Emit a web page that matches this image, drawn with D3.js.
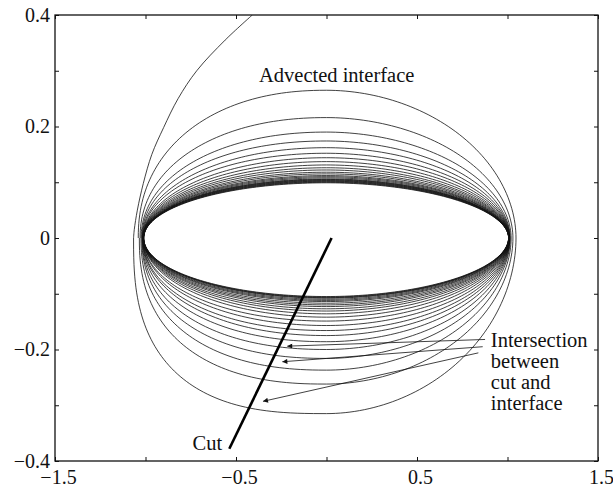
<!DOCTYPE html>
<html>
<head>
<meta charset="utf-8">
<script src="https://cdn.jsdelivr.net/npm/d3@7"></script>
<style>
  html, body { margin: 0; padding: 0; background: #fff; }
  svg { display: block; }
  text { font-family: "Liberation Serif", "Times New Roman", serif; fill: #111; }
</style>
</head>
<body>
<svg id="chart" width="613" height="490"></svg>
<script>
// ---- data ----
const xTickValues = [-1.5, -1, -0.5, 0, 0.5, 1, 1.5];
const xTickLabels = ["\u22121.5", "", "\u22120.5", "", "0.5", "", "1.5"];
const yTickValues = [-0.4, -0.3, -0.2, -0.1, 0, 0.1, 0.2, 0.3, 0.4];
const yTickLabels = ["\u22120.4", "", "\u22120.2", "", "0", "", "0.2", "", "0.4"];

// advected interface loops (outer -> inner): extremes
const loopTop    = [0.265, 0.216, 0.190, 0.174, 0.162, 0.152, 0.144, 0.137, 0.131, 0.126, 0.122, 0.118, 0.115, 0.112, 0.110, 0.108, 0.106, 0.105, 0.104, 0.103, 0.102, 0.101, 0.100, 0.099];
const loopBottom = [-0.315, -0.262, -0.237, -0.216, -0.200, -0.186, -0.175, -0.166, -0.157, -0.149, -0.142, -0.136, -0.131, -0.127, -0.123, -0.120, -0.117, -0.114, -0.112, -0.110, -0.108, -0.107, -0.106, -0.105];
const loopLeftUpper = [-1.040, -1.030, -1.024, -1.020, -1.018, -1.016, -1.015, -1.014, -1.013, -1.013, -1.012, -1.012, -1.012, -1.012, -1.011, -1.011, -1.011, -1.011, -1.011, -1.011, -1.010, -1.010, -1.010, -1.010];
const loopLeftLower = [-1.066, -1.034, -1.025, -1.020, -1.018, -1.016, -1.015, -1.014, -1.013, -1.013, -1.012, -1.012, -1.012, -1.012, -1.011, -1.011, -1.011, -1.011, -1.011, -1.011, -1.010, -1.010, -1.010, -1.010];
const loopRight  = [1.047, 1.030, 1.020, 1.015, 1.013, 1.012, 1.011, 1.010, 1.010, 1.009, 1.009, 1.009, 1.008, 1.008, 1.008, 1.008, 1.007, 1.007, 1.007, 1.007, 1.007, 1.006, 1.006, 1.006];
// curvature (squareness) of each quadrant
const loopShapeTopLeft  = [2.2, 2.15, 2.1, 2.1, 2.05, 2.05, 2.0, 2.0, 2.0, 2.0, 2.0, 2.0, 2.0, 2.0, 2.0, 2.0, 2.0, 2.0, 2.0, 2.0, 2.0, 2.0, 2.0, 2.0];
const loopShapeTopRight = [1.95, 1.95, 1.95, 1.95, 1.95, 1.95, 1.95, 1.95, 1.95, 1.95, 1.95, 1.95, 1.95, 1.95, 1.95, 1.95, 1.95, 1.95, 1.95, 1.95, 1.95, 1.95, 1.95, 1.95];
const loopShapeBottomLeft = [2.7, 2.4, 2.3, 2.25, 2.2, 2.15, 2.1, 2.1, 2.05, 2.05, 2.0, 2.0, 2.0, 2.0, 2.0, 2.0, 2.0, 2.0, 2.0, 2.0, 2.0, 2.0, 2.0, 2.0];
const loopShapeBottomRight = [1.95, 1.95, 1.95, 1.95, 1.95, 1.95, 1.95, 1.95, 1.95, 1.95, 1.95, 1.95, 1.95, 1.95, 1.95, 1.95, 1.95, 1.95, 1.95, 1.95, 1.95, 1.95, 1.95, 1.95];

// open arc of the initial interface leaving the frame at the top
const arcX = [-0.41, -0.56, -0.717, -0.82, -0.90, -0.965, -1.012, -1.045, -1.062, -1.066];
const arcY = [0.40, 0.355, 0.30, 0.25, 0.198, 0.15, 0.098, 0.05, 0.015, 0.0];

// the cut
const cutX = [0.028, -0.537];
const cutY = [0.0, -0.378];

// arrows: start (near label) -> tip (on the cut)
const arrowStartX = [0.876, 0.863, 0.839];
const arrowStartY = [-0.182, -0.195, -0.206];
const arrowTipX = [-0.217, -0.244, -0.351];
const arrowTipY = [-0.194, -0.222, -0.293];

// annotations
const labelAdvected = { text: "Advected interface", x: -0.373, y: 0.280 };
const labelCut = { text: "Cut", x: -0.740, y: -0.381 };
const labelIntersection = { lines: ["Intersection", "between", "cut and", "interface"], x: 0.908, y: -0.195 };

// ---- drawing ----
const SERIF = '"Liberation Serif", "Times New Roman", serif';
const svg = d3.select("#chart");
const margin = { left: 55, right: 15, top: 15, bottom: 29 };
const W = 613, H = 490;
const x = d3.scaleLinear().domain([-1.5, 1.5]).range([margin.left, W - margin.right]);
const y = d3.scaleLinear().domain([-0.4, 0.4]).range([H - margin.bottom, margin.top]);

const defs = svg.append("defs");
defs.append("clipPath").attr("id", "clip").append("rect")
  .attr("x", x(-1.5)).attr("y", y(0.4)).attr("width", x(1.5) - x(-1.5)).attr("height", y(-0.4) - y(0.4));
defs.append("marker").attr("id", "arrow").attr("viewBox", "0 0 10 10")
  .attr("refX", 10).attr("refY", 5).attr("markerWidth", 7).attr("markerHeight", 5)
  .attr("markerUnits", "userSpaceOnUse").attr("orient", "auto")
  .append("path").attr("d", "M0,0 L10,5 L0,10 z").attr("fill", "#111");

const plot = svg.append("g").attr("clip-path", "url(#clip)");

// quadrant sampler (superellipse quadrant between two axis points)
function quadrant(ax, by, n, fromAxisX, steps) {
  const pts = [];
  for (let k = 0; k <= steps; k++) {
    const t = (k / steps) * Math.PI / 2;
    const tt = fromAxisX ? t : Math.PI / 2 - t;
    const c = Math.pow(Math.cos(tt), 2 / n), s = Math.pow(Math.sin(tt), 2 / n);
    pts.push([ax * c, by * s]);
  }
  return pts;
}

const line = d3.line().x(d => x(d[0])).y(d => y(d[1]));
const steps = 60;
loopTop.forEach((top, i) => {
  let pts = [];
  pts = pts.concat(quadrant(loopLeftUpper[i], top, loopShapeTopLeft[i], true, steps));
  pts = pts.concat(quadrant(loopRight[i], top, loopShapeTopRight[i], false, steps).slice(1));
  pts = pts.concat(quadrant(loopRight[i], loopBottom[i], loopShapeBottomRight[i], true, steps).slice(1));
  pts = pts.concat(quadrant(loopLeftLower[i], loopBottom[i], loopShapeBottomLeft[i], false, steps).slice(1));
  plot.append("path").attr("d", line(pts))
    .attr("fill", "none").attr("stroke", "#111").attr("stroke-width", 0.8);
});

// outer arc
const arcPts = arcX.map((v, i) => [v, arcY[i]]);
plot.append("path").attr("d", d3.line().x(d => x(d[0])).y(d => y(d[1])).curve(d3.curveCatmullRom)(arcPts))
  .attr("fill", "none").attr("stroke", "#111").attr("stroke-width", 0.8);

// cut
plot.append("path").attr("d", line(cutX.map((v, i) => [v, cutY[i]])))
  .attr("fill", "none").attr("stroke", "#000").attr("stroke-width", 2.6);

// arrows
arrowStartX.forEach((sx, i) => {
  svg.append("line")
    .attr("x1", x(sx)).attr("y1", y(arrowStartY[i]))
    .attr("x2", x(arrowTipX[i])).attr("y2", y(arrowTipY[i]))
    .attr("stroke", "#111").attr("stroke-width", 0.8)
    .attr("marker-end", "url(#arrow)");
});

// axes (ticks inward on all four sides)
const tick = 4;
svg.append("g").attr("transform", `translate(0,${y(-0.4)})`)
  .call(d3.axisBottom(x).tickValues(xTickValues).tickSize(-tick).tickPadding(9).tickFormat((d, i) => xTickLabels[i]))
  .call(g => g.select(".domain").remove())
  .call(g => g.selectAll("text").attr("dx", 3).style("font-size", "20px").style("font-family", SERIF).style("fill", "#111"));
svg.append("g").attr("transform", `translate(0,${y(0.4)})`)
  .call(d3.axisTop(x).tickValues(xTickValues).tickSize(-tick).tickFormat(""))
  .call(g => g.select(".domain").remove());
svg.append("g").attr("transform", `translate(${x(-1.5)},0)`)
  .call(d3.axisLeft(y).tickValues(yTickValues).tickSize(-tick).tickPadding(5).tickFormat((d, i) => yTickLabels[i]))
  .call(g => g.select(".domain").remove())
  .call(g => g.selectAll("text").style("font-size", "20px").style("font-family", SERIF).style("fill", "#111"));
svg.append("g").attr("transform", `translate(${x(1.5)},0)`)
  .call(d3.axisRight(y).tickValues(yTickValues).tickSize(-tick).tickFormat(""))
  .call(g => g.select(".domain").remove());
svg.selectAll(".tick line").attr("stroke", "#111").attr("stroke-width", 1);

// frame
svg.append("rect")
  .attr("x", x(-1.5)).attr("y", y(0.4))
  .attr("width", x(1.5) - x(-1.5)).attr("height", y(-0.4) - y(0.4))
  .attr("fill", "none").attr("stroke", "#111").attr("stroke-width", 1.3);

// annotations
svg.append("text").attr("x", x(labelAdvected.x)).attr("y", y(labelAdvected.y))
  .style("font-size", "20.5px").style("font-family", SERIF).text(labelAdvected.text);
svg.append("text").attr("x", x(labelCut.x)).attr("y", y(labelCut.y))
  .style("font-size", "20.5px").style("font-family", SERIF).text(labelCut.text);
const it = svg.append("text").style("font-size", "20.5px").style("font-family", SERIF);
labelIntersection.lines.forEach((s, i) => {
  it.append("tspan").attr("x", x(labelIntersection.x)).attr("y", y(labelIntersection.y) + i * 21).text(s);
});
</script>
</body>
</html>
